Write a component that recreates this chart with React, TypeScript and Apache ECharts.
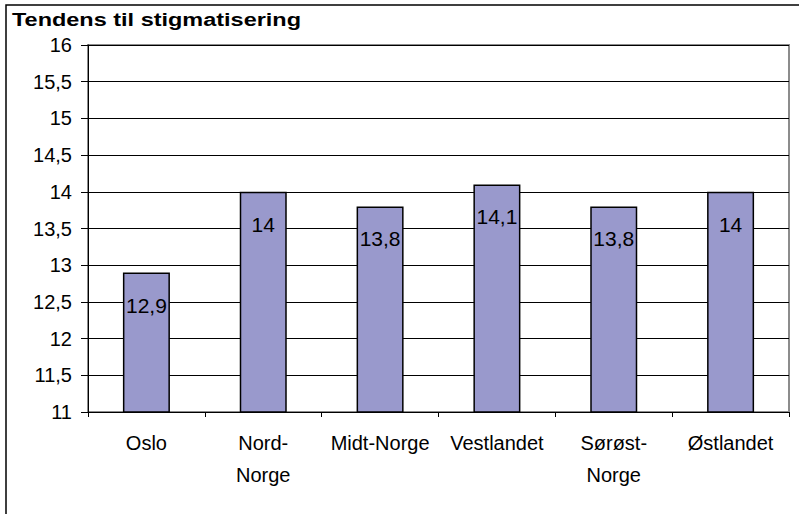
import React, { useEffect, useRef } from "react";
import * as echarts from "echarts";

const title = "Tendens til stigmatisering";
const categories = ["Oslo", "Nord-\nNorge", "Midt-Norge", "Vestlandet", "Sørøst-\nNorge", "Østlandet"];
const values = [12.9, 14, 13.8, 14.1, 13.8, 14];
const yMin = 11;
const yMax = 16;
const yStep = 0.5;

const fmt = (v: number) => String(v).replace(".", ",");

export default function App() {
  const ref = useRef<HTMLDivElement>(null);
  useEffect(() => {
    document.body.style.margin = "0";
    const chart = echarts.init(ref.current!, null, { renderer: "svg" });
    const font = "'Liberation Sans', Arial, sans-serif";
    chart.setOption({
      animation: false,
      backgroundColor: "#ffffff",
      textStyle: { fontFamily: font },
      graphic: [
        {
          type: "rect",
          shape: { x: 6, y: 5, width: 820, height: 540 },
          style: { fill: "none", stroke: "#000000", lineWidth: 1.5 },
          silent: true,
        },
        {
          type: "text",
          x: 12,
          y: 10,
          scaleX: 1.236,
          style: {
            text: title,
            font: `bold 19px ${font}`,
            fill: "#000000",
          },
        },
      ],
      grid: {
        left: 88,
        top: 45,
        right: 10,
        bottom: 102,
        show: true,
        borderColor: "#8c8c8c",
        borderWidth: 2,
        backgroundColor: "#ffffff",
      },
      xAxis: {
        type: "category",
        data: categories,
        boundaryGap: true,
        axisLine: { lineStyle: { color: "#000000", width: 1 } },
        axisTick: { show: true, length: 5, lineStyle: { color: "#000000" } },
        axisLabel: {
          color: "#000000",
          fontSize: 20,
          lineHeight: 32,
          margin: 15,
          interval: 0,
          fontFamily: font,
        },
      },
      yAxis: {
        type: "value",
        min: yMin,
        max: yMax,
        interval: yStep,
        axisLine: { show: true, lineStyle: { color: "#000000", width: 1 } },
        axisTick: { show: true, length: 7, lineStyle: { color: "#000000" } },
        axisLabel: {
          color: "#000000",
          fontSize: 20,
          margin: 16,
          fontFamily: font,
          formatter: (v: number) => fmt(v),
        },
        splitLine: { show: true, lineStyle: { color: "#000000", width: 1 } },
      },
      series: [
        {
          type: "bar",
          data: values,
          barWidth: 47,
          itemStyle: { color: "#9999cc", borderColor: "#000000", borderWidth: 1.5 },
          label: {
            show: true,
            position: "insideTop",
            distance: 22,
            color: "#000000",
            fontSize: 21,
            fontFamily: font,
            formatter: (p: any) => fmt(p.value),
          },
        },
      ],
    });
    return () => chart.dispose();
  }, []);
  return <div ref={ref} style={{ width: 799, height: 514 }} />;
}
